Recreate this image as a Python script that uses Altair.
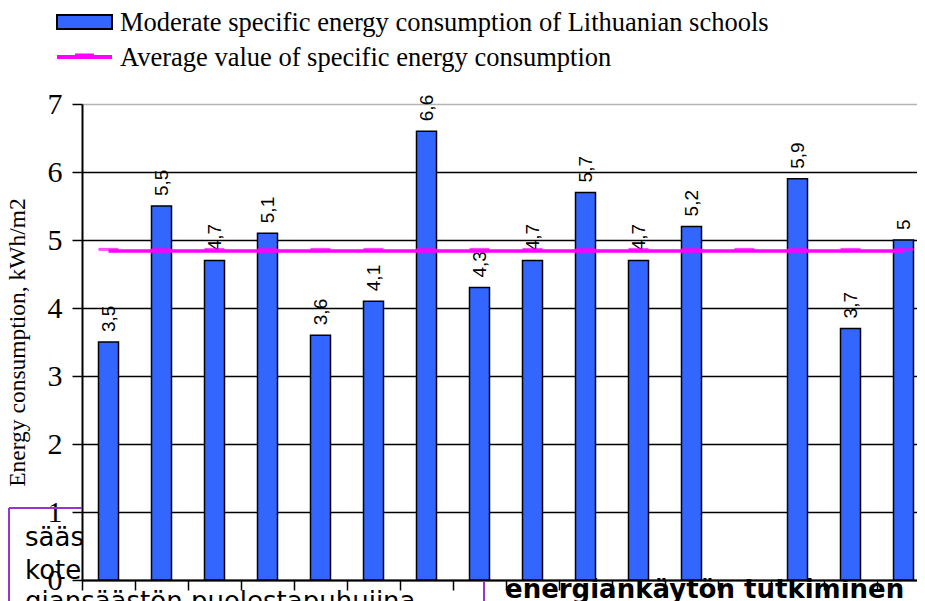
import altair as alt
import pandas as pd

# ---- data ----
schools = [f"School {i}" for i in range(1, 17)]
consumption = [3.5, 5.5, 4.7, 5.1, 3.6, 4.1, 6.6, 4.3, 4.7, 5.7, 4.7, 5.2, None, 5.9, 3.7, 5.0]
average = [4.84, 4.84, 4.84, 4.84, 4.84, 4.84, 4.84, 4.84,
           4.84, 4.84, 4.84, 4.84, 4.84, 4.84, 4.84, 4.84]
y_ticks = [0, 1, 2, 3, 4, 5, 6, 7]
legend_labels = ["Moderate specific energy consumption of Lithuanian schools",
                 "Average value of specific energy consumption"]
y_title = "Energy consumption, kWh/m2"
overlay_texts = ["sääs", "kote", "giansäästön puolestapuhujina", "energiankäytön tutkiminen"]

BLUE = "#3366FF"
MAGENTA = "#FF00FF"
PURPLE = "#9933CC"
W, H = 835, 476
X_EXTENT = 848  # the category axis runs slightly past the visible right edge

labels = [None if v is None else f"{v:g}".replace(".", ",") for v in consumption]
bars_df = pd.DataFrame({"school": schools, "value": consumption, "label": labels})
avg_df = pd.DataFrame({"school": schools, "avg": average})

x_scale = alt.Scale(domain=schools, paddingInner=0, paddingOuter=0, range=[0, X_EXTENT])
x_enc = alt.X("school:N", sort=schools, scale=x_scale,
              axis=alt.Axis(labels=False, title=None, bandPosition=0, tickSize=10,
                            tickColor="black", tickWidth=1.5, domainColor="black",
                            domainWidth=2, grid=False))
y_scale = alt.Scale(domain=[0, 7], nice=False, zero=True)

bars = alt.Chart(bars_df).transform_filter("isValid(datum.value)").mark_bar(
    size=20, color=BLUE, stroke="black", strokeWidth=1.5
).encode(
    x=x_enc,
    y=alt.Y("value:Q", scale=y_scale,
            axis=alt.Axis(values=y_ticks, format="d", title=y_title,
                          titleFont="Liberation Serif", titleFontSize=23.5,
                          titleFontWeight="normal", titleColor="black",
                          titleX=-65, titleY=H / 2, titleAngle=270, titleAlign="center",
                          titleBaseline="middle",
                          labelFont="Liberation Serif", labelFontSize=30,
                          labelColor="black", labelPadding=10, tickSize=10,
                          tickColor="black", tickWidth=1.5, domainColor="black",
                          domainWidth=2, gridWidth=1.5, gridOpacity=1,
                          gridColor={"condition": {"test": "datum.value == 7", "value": "#b4b4b4"},
                                     "value": "black"})),
)

bar_labels = alt.Chart(bars_df).transform_filter("isValid(datum.value)").mark_text(
    angle=270, align="left", baseline="middle", dx=10,
    font="Liberation Sans", fontSize=19, color="black"
).encode(x=alt.X("school:N", sort=schools, scale=x_scale),
         y=alt.Y("value:Q", scale=y_scale), text="label:N")

avg_line = alt.Chart(avg_df).mark_line(color=MAGENTA, strokeWidth=3.5).encode(
    x=alt.X("school:N", sort=schools, scale=x_scale), y=alt.Y("avg:Q", scale=y_scale))
avg_marks = alt.Chart(avg_df).mark_tick(color=MAGENTA, thickness=3, size=20, yOffset=-1.5).encode(
    x=alt.X("school:N", sort=schools, scale=x_scale), y=alt.Y("avg:Q", scale=y_scale))

one = pd.DataFrame({"k": [0]})
leg_rect = alt.Chart(one).mark_rect(color=BLUE, stroke="black", strokeWidth=2).encode(
    x=alt.value(-25), x2=alt.value(30), y=alt.value(-89), y2=alt.value(-75))
leg_line = alt.Chart(one).mark_rule(color=MAGENTA, strokeWidth=4).encode(
    x=alt.value(-25), x2=alt.value(30), y=alt.value(-47))
leg_dash = alt.Chart(one).mark_rule(color=MAGENTA, strokeWidth=3).encode(
    x=alt.value(-7), x2=alt.value(12), y=alt.value(-49))
leg_t1 = alt.Chart(one).mark_text(align="left", baseline="middle", font="Liberation Serif",
                                  fontSize=26.5, color="black").encode(
    x=alt.value(38), y=alt.value(-81), text=alt.value(legend_labels[0]))
leg_t2 = alt.Chart(one).mark_text(align="left", baseline="middle", font="Liberation Serif",
                                  fontSize=26.5, color="black").encode(
    x=alt.value(38), y=alt.value(-46), text=alt.value(legend_labels[1]))

# overlapping page fragments visible at the bottom of the reference
box_left = alt.Chart(one).mark_rule(color=PURPLE, strokeWidth=2).encode(
    x=alt.value(-73), y=alt.value(404), y2=alt.value(500))
box_top = alt.Chart(one).mark_rule(color=PURPLE, strokeWidth=2).encode(
    x=alt.value(-73), x2=alt.value(0), y=alt.value(404))
box_right = alt.Chart(one).mark_rule(color=PURPLE, strokeWidth=2).encode(
    x=alt.value(402), y=alt.value(477), y2=alt.value(500))
ov1 = alt.Chart(one).mark_text(align="left", baseline="alphabetic", font="DejaVu Sans",
                               fontSize=26, color="black").encode(
    x=alt.value(-57), y=alt.value(442), text=alt.value(overlay_texts[0]))
ov2 = alt.Chart(one).mark_text(align="left", baseline="alphabetic", font="DejaVu Sans",
                               fontSize=26, color="black").encode(
    x=alt.value(-57), y=alt.value(475), text=alt.value(overlay_texts[1]))
ov3 = alt.Chart(one).mark_text(align="left", baseline="alphabetic", font="DejaVu Sans",
                               fontSize=26, color="black").encode(
    x=alt.value(-57), y=alt.value(506), text=alt.value(overlay_texts[2]))
ov4 = alt.Chart(one).mark_text(align="left", baseline="alphabetic", font="DejaVu Sans",
                               fontSize=26, fontWeight="bold", color="black").encode(
    x=alt.value(423), y=alt.value(494), text=alt.value(overlay_texts[3]))

chart = alt.layer(
    box_left, box_top, box_right, ov1, ov2, ov3, ov4,
    bars, bar_labels, avg_line, avg_marks,
    leg_rect, leg_line, leg_dash, leg_t1, leg_t2,
).properties(
    width=W, height=H,
    autosize=alt.AutoSizeParams(type="none"),
    padding={"left": 74, "top": 96, "right": 0, "bottom": 21},
).configure_view(stroke=None).configure(background="white")

chart.save("out.html", embed_options={"renderer": "svg", "actions": False})
